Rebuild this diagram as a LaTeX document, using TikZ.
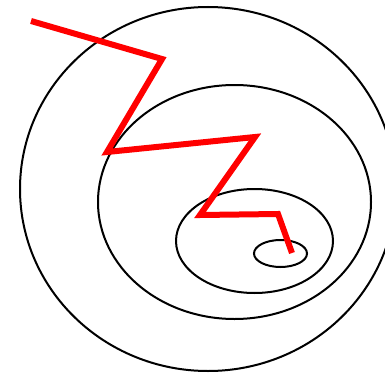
\documentclass[tikz,border=0pt]{standalone}
\begin{document}
\begin{tikzpicture}[x=0.75pt,y=-0.75pt,
  ring/.style={draw=black,line width=1.5pt},
  zig/.style={draw=red,line width=4.5pt,line join=miter}]
\useasboundingbox (0,0) rectangle (385,378);
\clip (0,0) rectangle (385,378);
\draw[ring] (208,189) ellipse [x radius=188, y radius=182];
\draw[ring] (234.5,202) ellipse [x radius=136.5, y radius=117];
\draw[ring] (254.5,241) ellipse [x radius=78.5, y radius=52];
\draw[ring] (280.5,253.5) ellipse [x radius=26.5, y radius=13.5];
\coordinate (p0) at (31,21);
\coordinate (p1) at (162,59);
\coordinate (p2) at (107,152);
\coordinate (p3) at (255,137);
\coordinate (p4) at (200,215);
\coordinate (p5) at (278,214);
\coordinate (p6) at (292,253);
\draw[zig] (p0) -- (p1) -- (p2) -- (p3) -- (p4) -- (p5) -- (p6);
\end{tikzpicture}
\end{document}
